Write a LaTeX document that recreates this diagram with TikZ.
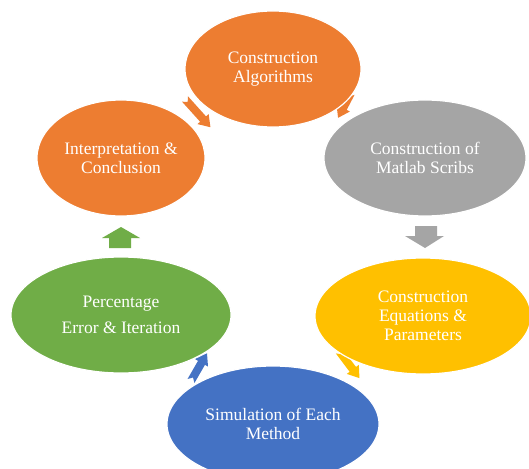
\documentclass[tikz,border=0pt]{standalone}
\usepackage{fontspec}
\setmainfont{Liberation Serif}
\usetikzlibrary{shapes.geometric}
\definecolor{oorange}{HTML}{ED7D31}
\definecolor{ogray}{HTML}{A5A5A5}
\definecolor{oyellow}{HTML}{FFC000}
\definecolor{ogreen}{HTML}{70AD47}
\definecolor{oblue}{HTML}{4472C4}
\tikzset{
  bubble/.style={ellipse, draw=white, line width=1.2pt, inner sep=0pt, text=white,
    align=center, font=\fontsize{17.5}{19}\selectfont},
  blockarrow/.pic={
    \fill (0,-4) -- (#1-11,-4) -- (#1-11,-7.5) -- (#1,0) -- (#1-11,7.5) -- (#1-11,4) -- (0,4) -- (4,0) -- cycle;
  }
}
\begin{document}
\begin{tikzpicture}[x=1pt,y=-1pt]
\clip (0,0) rectangle (529,468);
\fill[white] (0,0) rectangle (529,468);
% small cycle arrows (partly behind ellipses)
\pic[oorange, rotate=242.5] at (351,93) {blockarrow=28};
\pic[oorange, rotate=-48] at (185,99) {blockarrow=38};
\pic[oyellow, rotate=-53] at (339,351) {blockarrow=34};
\pic[oblue, rotate=60] at (191,381) {blockarrow=32};
% ellipses
\node[bubble, fill=oorange, minimum width=176pt, minimum height=116pt] (alg) at (273,69) {Construction\\Algorithms};
\node[bubble, fill=ogray, minimum width=202pt, minimum height=116pt] (mat) at (425,158) {Construction of\\Matlab Scribs};
\node[bubble, fill=oyellow, minimum width=216pt, minimum height=116pt] (eqn) at (423,316) {Construction\\Equations \&\\Parameters};
\node[bubble, fill=oblue, minimum width=212pt, minimum height=116pt] (sim) at (273,424) {Simulation of Each\\Method};
\node[bubble, fill=ogreen, minimum width=220pt, minimum height=116pt, font=\fontsize{17.5}{26}\selectfont] (err) at (121,315) {Percentage\\Error \& Iteration};
\node[bubble, fill=oorange, minimum width=168pt, minimum height=116pt] (con) at (121,158) {Interpretation \&\\Conclusion};
% straight block arrows
\fill[ogray] (415,226) -- (437,226) -- (437,236) -- (444,236) -- (425,248) -- (405,236) -- (415,236) -- cycle;
\fill[ogreen] (109,248) -- (109,238) -- (102,238) -- (121,227) -- (140,238) -- (131,238) -- (131,248) -- cycle;
\end{tikzpicture}
\end{document}
